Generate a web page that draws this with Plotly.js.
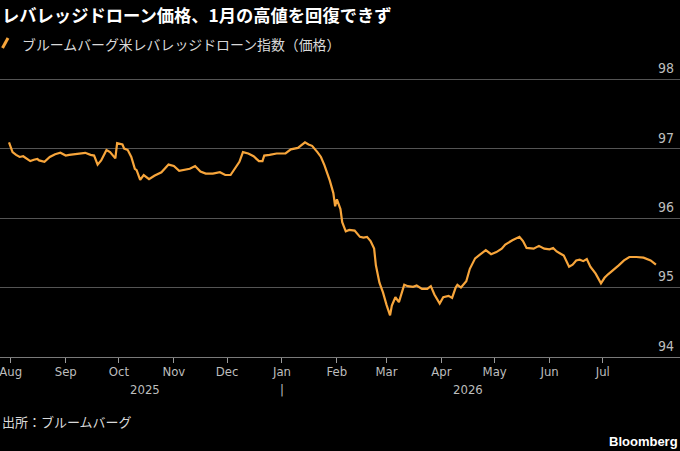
<!DOCTYPE html>
<html>
<head>
<meta charset="utf-8">
<script src="https://cdn.plot.ly/plotly-3.0.1.min.js"></script>
<style>
  html, body { margin: 0; padding: 0; background: #000; }
  #chart { width: 680px; height: 451px; }
</style>
</head>
<body>
<div id="chart"></div>
<script>
// ---- data ----
const dates = [
  '2025-07-31','2025-08-01','2025-08-02','2025-08-04','2025-08-06','2025-08-08','2025-08-10','2025-08-12','2025-08-14','2025-08-16',
  '2025-08-17','2025-08-20','2025-08-23','2025-08-26','2025-08-29','2025-09-01','2025-09-03','2025-09-06','2025-09-09','2025-09-12',
  '2025-09-15','2025-09-17','2025-09-19','2025-09-21','2025-09-23','2025-09-24','2025-09-26','2025-09-29','2025-09-30','2025-10-03',
  '2025-10-04','2025-10-06','2025-10-08','2025-10-10','2025-10-11','2025-10-13','2025-10-15','2025-10-18','2025-10-21','2025-10-25',
  '2025-10-29','2025-11-01','2025-11-04','2025-11-06','2025-11-10','2025-11-13','2025-11-16','2025-11-19','2025-11-23','2025-11-27',
  '2025-11-30','2025-12-03','2025-12-05','2025-12-08','2025-12-10','2025-12-13','2025-12-16','2025-12-19','2025-12-21','2025-12-22',
  '2025-12-25','2025-12-29','2026-01-03','2026-01-06','2026-01-10','2026-01-14','2026-01-16','2026-01-18','2026-01-21','2026-01-23',
  '2026-01-25','2026-01-28','2026-01-30','2026-01-31','2026-02-01','2026-02-03','2026-02-04','2026-02-06','2026-02-08','2026-02-11',
  '2026-02-14','2026-02-16','2026-02-18','2026-02-20','2026-02-22','2026-02-23','2026-02-25','2026-02-27','2026-03-01','2026-03-03',
  '2026-03-04','2026-03-06','2026-03-08','2026-03-10','2026-03-11','2026-03-13','2026-03-16','2026-03-18','2026-03-21','2026-03-24',
  '2026-03-26','2026-03-28','2026-03-31','2026-04-02','2026-04-05','2026-04-07','2026-04-09','2026-04-10','2026-04-12','2026-04-15',
  '2026-04-17','2026-04-20','2026-04-23','2026-04-26','2026-04-29','2026-05-02','2026-05-05','2026-05-07','2026-05-11','2026-05-13',
  '2026-05-15','2026-05-17','2026-05-19','2026-05-23','2026-05-26','2026-05-29','2026-06-01','2026-06-03','2026-06-05','2026-06-07',
  '2026-06-09','2026-06-12','2026-06-14','2026-06-16','2026-06-18','2026-06-20','2026-06-22','2026-06-24','2026-06-27','2026-06-30',
  '2026-07-02','2026-07-04','2026-07-07','2026-07-10','2026-07-13','2026-07-16','2026-07-20','2026-07-24','2026-07-28','2026-07-31'
];
const priceIndex = [
  97.09,97.02,96.95,96.91,96.88,96.89,96.86,96.82,96.84,96.85,
  96.83,96.81,96.88,96.92,96.94,96.90,96.91,96.92,96.93,96.94,
  96.91,96.90,96.77,96.83,96.93,96.98,96.95,96.86,97.08,97.06,
  97.00,96.98,96.88,96.71,96.69,96.55,96.62,96.56,96.61,96.66,
  96.77,96.75,96.68,96.69,96.71,96.75,96.67,96.64,96.64,96.66,
  96.62,96.62,96.69,96.81,96.95,96.93,96.89,96.82,96.82,96.90,
  96.91,96.93,96.93,96.99,97.01,97.09,97.06,97.04,96.95,96.88,
  96.76,96.54,96.36,96.17,96.27,96.13,95.94,95.81,95.83,95.82,
  95.73,95.72,95.73,95.67,95.56,95.32,95.07,94.93,94.75,94.60,
  94.74,94.86,94.79,94.97,95.04,95.02,95.01,95.03,94.98,94.98,
  95.02,94.90,94.77,94.86,94.88,94.85,95.00,95.04,95.00,95.09,
  95.27,95.42,95.48,95.54,95.48,95.51,95.56,95.62,95.68,95.70,
  95.73,95.67,95.57,95.56,95.60,95.56,95.55,95.57,95.52,95.49,
  95.46,95.30,95.33,95.39,95.40,95.38,95.41,95.30,95.20,95.06,
  95.14,95.19,95.25,95.32,95.39,95.44,95.44,95.43,95.39,95.33
];
const monthTickVals = ['2025-08-01','2025-09-01','2025-10-01','2025-11-01','2025-12-01','2026-01-01',
                       '2026-02-01','2026-03-01','2026-04-01','2026-05-01','2026-06-01','2026-07-01'];
const monthTickText = ['Aug','Sep','Oct','Nov','Dec','Jan','Feb','Mar','Apr','May','Jun','Jul'];
const yTickVals = [94, 95, 96, 97, 98];
const yearLabels = ['2025', '2026'];
const yearLabelDates = ['2025-10-16', '2026-04-16'];
const yearSeparatorDate = '2026-01-01';

const titleText = 'レバレッジドローン価格、1月の高値を回復できず';
const seriesName = 'ブルームバーグ米レバレッジドローン指数（価格）';
const sourceText = '出所：ブルームバーグ';
const brandText = 'Bloomberg';

// ---- chart ----
const jp = '"Noto Sans CJK JP", "Noto Sans", sans-serif';
const narrow = '"Liberation Sans Narrow", "DejaVu Sans Condensed", "Roboto", sans-serif';
const orange = '#f7a53b';

const trace = {
  x: dates, y: priceIndex, type: 'scatter', mode: 'lines',
  name: seriesName,
  line: { color: orange, width: 2.2 },
  hoverinfo: 'skip'
};

const annotations = [
  { xref: 'paper', yref: 'paper', x: 0, y: 1.216, xanchor: 'left', yanchor: 'middle',
    text: '<b>' + titleText + '</b>', showarrow: false,
    font: { family: jp, size: 17.3, color: '#ffffff' } },
  { xref: 'paper', yref: 'paper', x: 20/680, y: 1.111, xanchor: 'left', yanchor: 'middle',
    text: seriesName, showarrow: false,
    font: { family: jp, size: 13.9, color: '#d9d9d9' } },
  { xref: 'paper', yref: 'paper', x: 0, y: -0.228, xanchor: 'left', yanchor: 'middle',
    text: sourceText, showarrow: false,
    font: { family: jp, size: 13, color: '#d9d9d9' } },
  { xref: 'paper', yref: 'paper', x: 1, y: -0.298, xanchor: 'right', yanchor: 'middle',
    text: '<b>' + brandText + '</b>', showarrow: false,
    font: { family: '"Liberation Sans", Arial, sans-serif', size: 13, color: '#ffffff' } },
  { xref: 'x', yref: 'paper', x: yearSeparatorDate, y: -0.117, xanchor: 'center', yanchor: 'middle',
    text: '|', showarrow: false,
    font: { family: narrow, size: 13, color: '#bdbdbd' } }
];
yearLabels.forEach((t, i) => annotations.push({
  xref: 'x', yref: 'paper', x: yearLabelDates[i], y: -0.117, xanchor: 'center', yanchor: 'middle',
  text: t, showarrow: false, font: { family: narrow, size: 13, color: '#bdbdbd' }
}));

const layout = {
  width: 680, height: 451,
  paper_bgcolor: '#000000', plot_bgcolor: '#000000',
  margin: { l: 0, r: 0, t: 75, b: 94, pad: 0 },
  showlegend: false,
  hovermode: false,
  xaxis: {
    type: 'date',
    range: ['2025-07-25 22:00', '2026-08-13 14:00'],
    tickvals: monthTickVals, ticktext: monthTickText,
    ticks: 'outside', ticklen: 5, tickwidth: 1, tickcolor: '#9a9a9a',
    ticklabeloverflow: 'allow', ticklabelstandoff: -3,
    showline: true, linecolor: '#7a7a7a', linewidth: 1,
    showgrid: false, zeroline: false,
    tickfont: { family: narrow, size: 13, color: '#bdbdbd' },
    fixedrange: true
  },
  yaxis: {
    side: 'right',
    range: [94, 98.06],
    tickvals: yTickVals,
    ticks: '', ticklabelposition: 'inside',
    ticklabelshift: -11, ticklabelstandoff: 3,
    ticklabeloverflow: 'allow',
    showgrid: true, gridcolor: '#545454', gridwidth: 1,
    zeroline: false, showline: false,
    tickfont: { family: narrow, size: 14, color: '#bdbdbd' },
    fixedrange: true
  },
  shapes: [
    { type: 'line', xref: 'paper', yref: 'paper',
      x0: 2.5/680, x1: 8/680, y0: (357-48)/282, y1: (357-38)/282,
      line: { color: orange, width: 3 } }
  ],
  annotations: annotations
};

Plotly.newPlot('chart', [trace], layout, { displayModeBar: false, staticPlot: true });
</script>
</body>
</html>
